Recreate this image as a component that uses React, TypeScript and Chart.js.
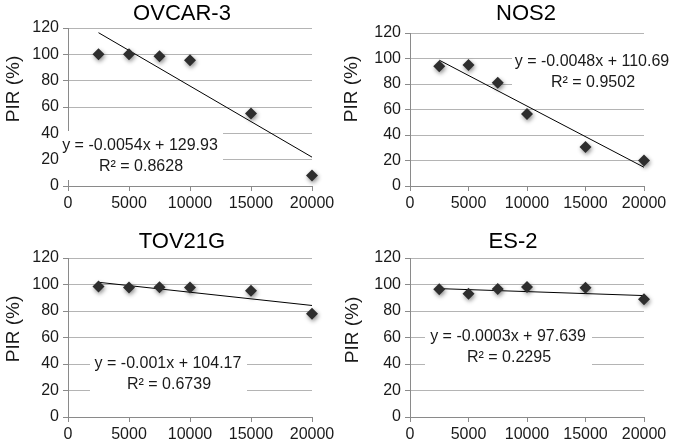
import React, { useEffect, useRef } from "react";
import { Chart, registerables } from "chart.js";

Chart.register(...registerables);

// ---------- data ----------
const doses = [2500, 5000, 7500, 10000, 15000, 20000];
const panelTitles = ["OVCAR-3", "NOS2", "TOV21G", "ES-2"];
const ovcar3 = [100, 100, 98.5, 95.5, 55, 8];
const nos2 = [94, 95, 81, 56.5, 30.5, 20];
const tov21g = [98.5, 97.7, 97.9, 97.7, 95.2, 78];
const es2 = [96.4, 93.1, 96.6, 98.1, 97.6, 88.8];
const slopes = [-0.0054, -0.0048, -0.001, -0.0003];
const intercepts = [129.93, 110.69, 104.17, 97.639];
const rSquared = ["0.8628", "0.9502", "0.6739", "0.2295"];
const yAxisLabel = "PIR (%)";
const yMin = 0, yMax = 120, yStep = 20;
const xMin = 0, xMax = 20000, xStep = 5000;

const seriesValues = [ovcar3, nos2, tov21g, es2];

// ---------- layout (positions / styles only) ----------
type Lay = {
  left: number; top: number; w: number; h: number;
  areaL: number; areaR: number; areaT: number; areaB: number;
  titleX: number; titleY: number; labelX: number; labelY: number;
  box: [number, number, number, number]; textX: number; textY: number;
};
const layouts: Lay[] = [
  { left: 0, top: 0, w: 338, h: 220, areaL: 68, areaR: 312, areaT: 28, areaB: 186,
    titleX: 182, titleY: 14, labelX: 14, labelY: 89, box: [60, 131, 223, 180], textX: 140, textY: 146 },
  { left: 338, top: 0, w: 339, h: 220, areaL: 72, areaR: 306, areaT: 33, areaB: 186,
    titleX: 188, titleY: 14, labelX: 14, labelY: 89, box: [174, 50, 339, 95], textX: 254, textY: 62 },
  { left: 0, top: 220, w: 338, h: 221, areaL: 68, areaR: 312, areaT: 38, areaB: 197,
    titleX: 182, titleY: 22, labelX: 14, labelY: 109, box: [90, 132, 247, 178], textX: 168, textY: 144 },
  { left: 338, top: 220, w: 339, h: 221, areaL: 72, areaR: 306, areaT: 38, areaB: 197,
    titleX: 175, titleY: 22, labelX: 15, labelY: 110, box: [87, 100, 254, 156], textX: 170, textY: 117 },
];

const FONT = '"Liberation Sans", Arial, sans-serif';
const GRID = "#b4b4b4";
const AXIS = "#8a8a8a";
const TEXT = "#1a1a1a";

function Panel({ idx }: { idx: number }) {
  const ref = useRef<HTMLCanvasElement>(null);
  const L = layouts[idx];

  useEffect(() => {
    if (!ref.current) return;
    const values = seriesValues[idx];
    const slope = slopes[idx];
    const intercept = intercepts[idx];
    const xs0 = Math.min(...doses);
    const xs1 = Math.max(...doses);
    const trend = [
      { x: xs0, y: slope * xs0 + intercept },
      { x: xs1, y: slope * xs1 + intercept },
    ];
    const points = doses.map((d, i) => ({ x: d, y: values[i] }));
    const equation = `y = ${slope}x + ${intercept}`;
    const r2Text = `R\u00B2 = ${rSquared[idx]}`;

    const deco = {
      id: "deco" + idx,
      beforeDatasetDraw(chart: any, args: any) {
        if (args.index === 0) {
          const ctx = chart.ctx;
          ctx.save();
          ctx.shadowColor = "rgba(0,0,0,0.45)";
          ctx.shadowBlur = 4;
          ctx.shadowOffsetX = 1;
          ctx.shadowOffsetY = 2;
        }
      },
      afterDatasetDraw(chart: any, args: any) {
        if (args.index === 0) chart.ctx.restore();
      },
      afterDraw(chart: any) {
        const ctx = chart.ctx;
        ctx.save();
        const [bx0, by0, bx1, by1] = L.box;
        ctx.fillStyle = "#ffffff";
        ctx.fillRect(bx0, by0, bx1 - bx0, by1 - by0);
        ctx.fillStyle = TEXT;
        ctx.textAlign = "center";
        ctx.textBaseline = "middle";
        ctx.font = `16px ${FONT}`;
        ctx.fillText(equation, L.textX, L.textY);
        ctx.fillText(r2Text, L.textX + 1, L.textY + 21);
        ctx.fillStyle = "#000";
        ctx.font = `22px ${FONT}`;
        ctx.fillText(panelTitles[idx], L.titleX, L.titleY);
        ctx.translate(L.labelX, L.labelY);
        ctx.rotate(-Math.PI / 2);
        ctx.font = `19px ${FONT}`;
        ctx.fillStyle = TEXT;
        ctx.fillText(yAxisLabel, 0, 0);
        ctx.restore();
      },
    };

    const chart = new Chart(ref.current, {
      type: "scatter",
      data: {
        datasets: [
          {
            label: panelTitles[idx],
            data: points,
            pointStyle: "rectRot",
            pointRadius: 6,
            pointHoverRadius: 6,
            pointBackgroundColor: "#2e2e2e",
            pointBorderColor: "#2e2e2e",
            pointBorderWidth: 0,
            showLine: false,
            clip: false,
          } as any,
          {
            label: "trend",
            data: trend,
            showLine: true,
            borderColor: "#000",
            borderWidth: 1,
            pointRadius: 0,
            fill: false,
            clip: false,
          } as any,
        ],
      },
      options: {
        responsive: false,
        animation: false,
        devicePixelRatio: 1,
        events: [],
        layout: {
          padding: { left: 0, top: L.areaT, right: L.w - L.areaR, bottom: 0 },
        },
        plugins: {
          legend: { display: false },
          title: { display: false },
          tooltip: { enabled: false },
        },
        scales: {
          x: {
            type: "linear",
            min: xMin,
            max: xMax,
            afterFit: (s: any) => { s.height = L.h - L.areaB; },
            ticks: {
              stepSize: xStep,
              color: TEXT,
              padding: 3,
              maxRotation: 0,
              font: { family: FONT, size: 16 },
              callback: (v: any) => String(v),
            },
            grid: {
              display: true,
              drawOnChartArea: false,
              drawTicks: true,
              tickLength: 5,
              tickColor: AXIS,
              color: AXIS,
            },
            border: { display: true, color: AXIS, width: 1 },
          },
          y: {
            type: "linear",
            min: yMin,
            max: yMax,
            afterFit: (s: any) => { s.width = L.areaL; },
            ticks: {
              stepSize: yStep,
              color: TEXT,
              padding: 4,
              font: { family: FONT, size: 16 },
              callback: (v: any) => String(v),
            },
            grid: {
              color: GRID,
              drawTicks: true,
              tickLength: 5,
              tickColor: AXIS,
            },
            border: { display: true, color: AXIS, width: 1 },
          },
        },
      } as any,
      plugins: [deco],
    });
    return () => chart.destroy();
  }, []);

  return (
    <canvas
      ref={ref}
      width={L.w}
      height={L.h}
      style={{ position: "absolute", left: L.left, top: L.top, width: L.w, height: L.h, display: "block" }}
    />
  );
}

export default function App() {
  return (
    <div style={{ position: "absolute", left: 0, top: 0, width: 677, height: 441, background: "#fff", overflow: "hidden" }}>
      {[0, 1, 2, 3].map((i) => (
        <Panel key={i} idx={i} />
      ))}
    </div>
  );
}
